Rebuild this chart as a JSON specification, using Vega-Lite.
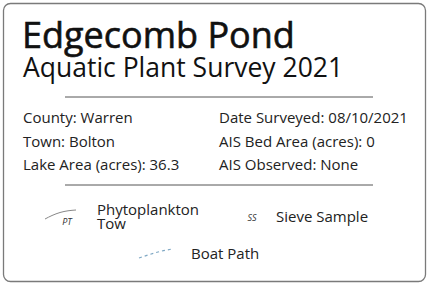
{
  "$schema": "https://vega.github.io/schema/vega-lite/v6.json",
  "width": 429,
  "height": 285,
  "padding": 0,
  "autosize": {"type": "fit", "contains": "padding"},
  "background": "white",
  "config": {"view": {"stroke": null}, "axis": {"disable": true}},
  "datasets": {
    "frame": [{"x": 3.5, "y": 3.5, "x2": 425.5, "y2": 281.5}],
    "rules": [{"x": 65, "x2": 373, "y": 97}, {"x": 65, "x2": 373, "y": 185}],
    "title": [{"x": 22, "y": 48, "t": "Edgecomb Pond"}],
    "subtitle": [{"x": 23, "y": 77, "t": "Aquatic Plant Survey 2021"}],
    "info": [
      {"x": 23, "y": 123, "t": "County: Warren"},
      {"x": 23, "y": 147, "t": "Town: Bolton"},
      {"x": 23, "y": 170, "t": "Lake Area (acres): 36.3"},
      {"x": 219, "y": 123, "t": "Date Surveyed: 08/10/2021"},
      {"x": 219, "y": 147, "t": "AIS Bed Area (acres): 0"},
      {"x": 219, "y": 170, "t": "AIS Observed: None"}
    ],
    "legendText": [
      {"x": 97, "y": 215, "t": "Phytoplankton"},
      {"x": 97, "y": 229, "t": "Tow"},
      {"x": 276, "y": 222, "t": "Sieve Sample"},
      {"x": 191, "y": 259, "t": "Boat Path"}
    ],
    "codes": [
      {"x": 67, "y": 225, "t": "PT"},
      {"x": 252, "y": 221, "t": "SS"}
    ],
    "tow": [
      {"x": 45, "y": 219, "o": 1},
      {"x": 52, "y": 215.5, "o": 2},
      {"x": 60, "y": 212.5, "o": 3},
      {"x": 68, "y": 210.8, "o": 4},
      {"x": 76, "y": 210, "o": 5}
    ],
    "boat": [
      {"x": 139, "y": 258, "o": 1},
      {"x": 148, "y": 255, "o": 2},
      {"x": 158, "y": 252, "o": 3},
      {"x": 172, "y": 249, "o": 4}
    ]
  },
  "layer": [
    {
      "data": {"name": "frame"},
      "mark": {"type": "rect", "fill": "white", "stroke": "#7a7a7a", "strokeWidth": 1.3, "cornerRadius": 7},
      "encoding": {
        "x": {"field": "x", "type": "quantitative", "scale": {"domain": [0, 429], "nice": false, "zero": false}},
        "x2": {"field": "x2"},
        "y": {"field": "y", "type": "quantitative", "scale": {"domain": [0, 285], "nice": false, "zero": false, "reverse": true}},
        "y2": {"field": "y2"}
      }
    },
    {
      "data": {"name": "rules"},
      "mark": {"type": "rule", "stroke": "#555", "strokeWidth": 1},
      "encoding": {
        "x": {"field": "x", "type": "quantitative"},
        "x2": {"field": "x2"},
        "y": {"field": "y", "type": "quantitative"}
      }
    },
    {
      "data": {"name": "title"},
      "mark": {"type": "text", "align": "left", "baseline": "alphabetic", "font": "Open Sans", "fontSize": 36, "color": "#111", "stroke": "#111", "strokeWidth": 0.6},
      "encoding": {
        "x": {"field": "x", "type": "quantitative"},
        "y": {"field": "y", "type": "quantitative"},
        "text": {"field": "t"}
      }
    },
    {
      "data": {"name": "subtitle"},
      "mark": {"type": "text", "align": "left", "baseline": "alphabetic", "font": "Open Sans", "fontSize": 26.5, "color": "#111"},
      "encoding": {
        "x": {"field": "x", "type": "quantitative"},
        "y": {"field": "y", "type": "quantitative"},
        "text": {"field": "t"}
      }
    },
    {
      "data": {"name": "info"},
      "mark": {"type": "text", "align": "left", "baseline": "alphabetic", "font": "Open Sans", "fontSize": 15, "color": "#222"},
      "encoding": {
        "x": {"field": "x", "type": "quantitative"},
        "y": {"field": "y", "type": "quantitative"},
        "text": {"field": "t"}
      }
    },
    {
      "data": {"name": "legendText"},
      "mark": {"type": "text", "align": "left", "baseline": "alphabetic", "font": "Open Sans", "fontSize": 15, "color": "#222"},
      "encoding": {
        "x": {"field": "x", "type": "quantitative"},
        "y": {"field": "y", "type": "quantitative"},
        "text": {"field": "t"}
      }
    },
    {
      "data": {"name": "codes"},
      "mark": {"type": "text", "align": "center", "baseline": "alphabetic", "font": "Open Sans", "fontSize": 9, "fontStyle": "italic", "color": "#333"},
      "encoding": {
        "x": {"field": "x", "type": "quantitative"},
        "y": {"field": "y", "type": "quantitative"},
        "text": {"field": "t"}
      }
    },
    {
      "data": {"name": "tow"},
      "mark": {"type": "line", "interpolate": "monotone", "stroke": "#888", "strokeWidth": 1},
      "encoding": {
        "x": {"field": "x", "type": "quantitative"},
        "y": {"field": "y", "type": "quantitative"},
        "order": {"field": "o"}
      }
    },
    {
      "data": {"name": "boat"},
      "mark": {"type": "line", "interpolate": "monotone", "stroke": "#7fa8c4", "strokeWidth": 1.2, "strokeDash": [3, 3]},
      "encoding": {
        "x": {"field": "x", "type": "quantitative"},
        "y": {"field": "y", "type": "quantitative"},
        "order": {"field": "o"}
      }
    }
  ]
}
